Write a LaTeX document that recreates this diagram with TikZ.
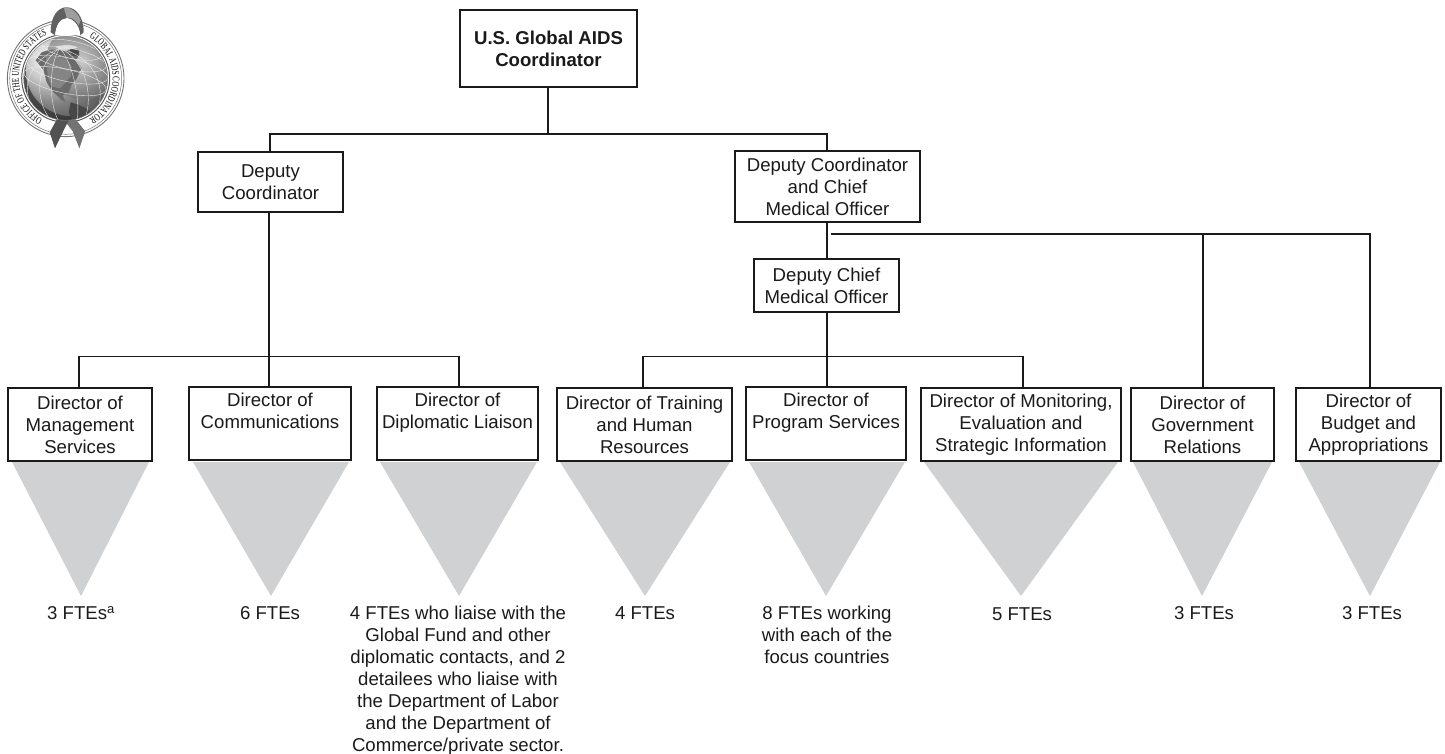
\documentclass[tikz,border=0pt]{standalone}
\usepackage{fontspec}
\setmainfont{Liberation Sans}
\newfontfamily\sealfont[FakeStretch=0.68]{Liberation Serif}
\usetikzlibrary{decorations.text}
\definecolor{trigrey}{HTML}{D0D1D3}
\definecolor{linegrey}{HTML}{1A1A1A}
\tikzset{
  box/.style={draw=linegrey,line width=1.2pt,fill=white,inner sep=0pt,align=center,text=linegrey,font=\fontsize{18.6}{22}\selectfont},
  label/.style={inner sep=0pt,align=center,text=linegrey,font=\fontsize{18.6}{22}\selectfont},
  conn/.style={draw=linegrey,line width=1.1pt},
  tri/.style={fill=trigrey,draw=none},
  gridline/.style={draw=white!85!gray,line width=.4pt},
  sealtext/.style={decorate,decoration={text along path,text align=center,text={|\sealfont\fontsize{10.2}{11}\selectfont\color{black}|#1}}}
}
\newcommand{\boxat}[6]{\node[box,minimum width=#4 pt-#3 pt,minimum height=#6 pt-#5 pt] (#1) at ({(#3+#4)/2},{(#5+#6)/2}) {#2};}
\begin{document}
\begin{tikzpicture}[x=1pt,y=-1pt]
\useasboundingbox (0,0) rectangle (1445,753);
% triangles
\fill[tri] (12,462) -- (149,462) -- (81,596) -- cycle;
\fill[tri] (193,462) -- (349,462) -- (271,596) -- cycle;
\fill[tri] (380,462) -- (537,462) -- (459,596) -- cycle;
\fill[tri] (560,462) -- (730,462) -- (645,596) -- cycle;
\fill[tri] (749,462) -- (905,462) -- (826,596) -- cycle;
\fill[tri] (924,462) -- (1118,462) -- (1021,596) -- cycle;
\fill[tri] (1133,462) -- (1272,462) -- (1202,596) -- cycle;
\fill[tri] (1299,462) -- (1440,462) -- (1370,596) -- cycle;
% boxes
\boxat{top}{\textbf{U.S. Global AIDS}\\\textbf{Coordinator}}{460}{637}{10}{87}
\boxat{dep}{Deputy\\Coordinator}{198}{343}{152}{212}
\boxat{cmo}{Deputy Coordinator\\and Chief\\Medical Officer}{735}{920}{151}{222}
\boxat{dcmo}{Deputy Chief\\Medical Officer}{754}{899}{259}{312}
\boxat{mgmt}{Director of\\Management\\Services}{8}{152}{388}{461}
\boxat{comm}{Director of\\Communications\\\vphantom{Sy}}{189}{351}{387}{460}
\boxat{dipl}{Director of\\Diplomatic Liaison\\\vphantom{Sy}}{377}{538}{387}{460}
\boxat{train}{Director of Training\\and Human\\Resources}{557}{732}{388}{461}
\boxat{prog}{Director of\\Program Services\\\vphantom{Sy}}{746}{906}{387}{460}
\boxat{moni}{Director of Monitoring,\\Evaluation and\\Strategic Information}{921}{1121}{388}{461}
\boxat{gov}{Director of\\Government\\Relations}{1131}{1274}{388}{461}
\boxat{budg}{Director of\\Budget and\\Appropriations}{1296}{1441}{388}{461}
% connector junctions
\coordinate (topbus) at (548,134);
\coordinate (busL) at (270,134);
\coordinate (busR) at (827,134);
\coordinate (lbus) at (269,356.5);
\coordinate (lbusL) at (79,356.5);
\coordinate (lbusR) at (459,356.5);
\coordinate (mbus) at (827,356.5);
\coordinate (mbusL) at (643,356.5);
\coordinate (mbusR) at (1023,356.5);
\coordinate (rstart) at (831,234);
\coordinate (rgov) at (1203,234);
\coordinate (rbud) at (1370,234);
% connectors
\draw[conn] (top.south -| topbus) -- (topbus);
\draw[conn] (busL |- dep.north) -- (busL) -- (busR) -- (busR |- cmo.north);
\draw[conn] (lbus |- dep.south) -- (lbus);
\draw[conn] (lbusL |- mgmt.north) -- (lbusL) -- (lbusR) -- (lbusR |- dipl.north);
\draw[conn] (lbus) -- (lbus |- comm.north);
\draw[conn] (mbus |- cmo.south) -- (mbus |- dcmo.north);
\draw[conn] (mbus |- dcmo.south) -- (mbus);
\draw[conn] (mbusL |- train.north) -- (mbusL) -- (mbusR) -- (mbusR |- moni.north);
\draw[conn] (mbus) -- (mbus |- prog.north);
\draw[conn] (rstart) -- (rbud) -- (rbud |- budg.north);
\draw[conn] (rgov) -- (rgov |- gov.north);
% FTE labels
\node[label,anchor=north] (l1) at (81,606) {3 FTEs\textsuperscript{a}};
\node[label,anchor=north] (l2) at (270,606) {6 FTEs};
\node[label,anchor=north] (l3) at (458,606) {4 FTEs who liaise with the\\Global Fund and other\\diplomatic contacts, and 2\\detailees who liaise with\\the Department of Labor\\and the Department of\\Commerce/private sector.};
\node[label,anchor=north] (l4) at (645,606) {4 FTEs};
\node[label,anchor=north] (l5) at (827,606) {8 FTEs working\\with each of the\\focus countries};
\node[label,anchor=north] (l6) at (1022,607) {5 FTEs};
\node[label,anchor=north] (l7) at (1204,606) {3 FTEs};
\node[label,anchor=north] (l8) at (1372,606) {3 FTEs};
% seal
\begin{scope}[shift={(65.7,78.3)},y=1pt]
  \draw[black!55,line width=.9pt] (0,0) circle (58.3);
  \draw[black!55,line width=.5pt] (0,0) circle (56);
  \draw[black!65,line width=1pt] (0,0) circle (44);
  % ring text
  \path[sealtext={OFFICE OF THE UNITED STATES}] (249:47) arc[start angle=249,end angle=105,radius=47];
  \path[sealtext={GLOBAL AIDS COORDINATOR}] (67:47) arc[start angle=67,end angle=-67,radius=47];
  % tails
  \fill[black!55] (6,-36) -- (19.5,-53) -- (13.7,-70) -- (7,-53) -- (-6,-36) -- cycle;
  \fill[black!68] (-6,-36) -- (-16,-54) -- (-10.7,-70) -- (-2.5,-53) -- (6,-36) -- cycle;
  % ribbon loop
  \fill[black!62] (-15,46) .. controls (-15,62) and (-8,71) .. (1,71) .. controls (10,71) and (18,62) .. (18,46) -- (14.5,43) .. controls (14,52) and (8,60) .. (1,60) .. controls (-6,60) and (-10,52) .. (-10.5,43) -- cycle;
  \fill[black!38] (-2,71) .. controls (3,71.5) and (11,68) .. (15,58) -- (13,53) .. controls (9,60) and (5,61) .. (1,60.5) -- cycle;
  % light band under the loop
  \fill[white] (-10.5,43) .. controls (-10,52) and (-6,60) .. (1,60) .. controls (8,60) and (14,52) .. (14.5,43) -- cycle;
  % globe
  \begin{scope}
    \clip (0,0) circle (42);
    \shade[ball color=black!28,shading=ball] (-56,-56) rectangle (56,56);
    \shade[inner color=white!90!black,outer color=black!55,opacity=.6] (18,17) circle (38);
    \fill[black!85,opacity=.65,even odd rule] (0,0) circle (42) (6,8) circle (46);
    % continents
    \fill[black!58] (-24,26) .. controls (-14,30) and (-8,29) .. (-2,27) -- (6,29) -- (14,24) -- (10,18) -- (16,10) -- (13,4) -- (10,-2) -- (6,-6) -- (3,-14) -- (-3,-17) -- (0,-24) -- (-5,-21) -- (-14,-12) -- (-19,-4) -- (-22,8) -- (-30,18) -- cycle;
    \fill[black!48] (-20,22) .. controls (-12,24) and (-6,20) .. (0,20) -- (6,12) -- (5,2) -- (0,-4) -- (-6,-10) -- (-14,-8) -- (-18,2) -- cycle;
    \fill[black!72] (5,-24) -- (14,-27) -- (24,-32) -- (21,-44) -- (8,-44) -- (3,-34) -- cycle;
    \fill[black!72] (4,30) -- (14,28) -- (12,22) -- (6,23) -- cycle;
    \fill[white,opacity=.6] (-10,31) .. controls (-4,34) and (6,34) .. (12,31) .. controls (6,28) and (-4,28) .. (-10,31) -- cycle;
    % grid
    \foreach \a in {-4,12,28,44}{
      \draw[gridline,rotate=-12] (0,{42*sin(\a)}) ellipse[x radius={42*cos(\a)},y radius={12*cos(\a)}];
    }
    \clip (-60,-60) rectangle (60,33);
    \foreach \r in {11,25,40}{
      \draw[gridline] (-6,30) .. controls (-6-\r,14) and (-6-\r,-24) .. (-2-\r/2,-42);
      \draw[gridline] (-6,30) .. controls (-6+\r,20) and (4+\r,-18) .. (6+\r/2,-42);
    }
  \end{scope}
  \draw[black!45,line width=.4pt] (0,0) circle (42);
\end{scope}
\end{tikzpicture}
\end{document}
